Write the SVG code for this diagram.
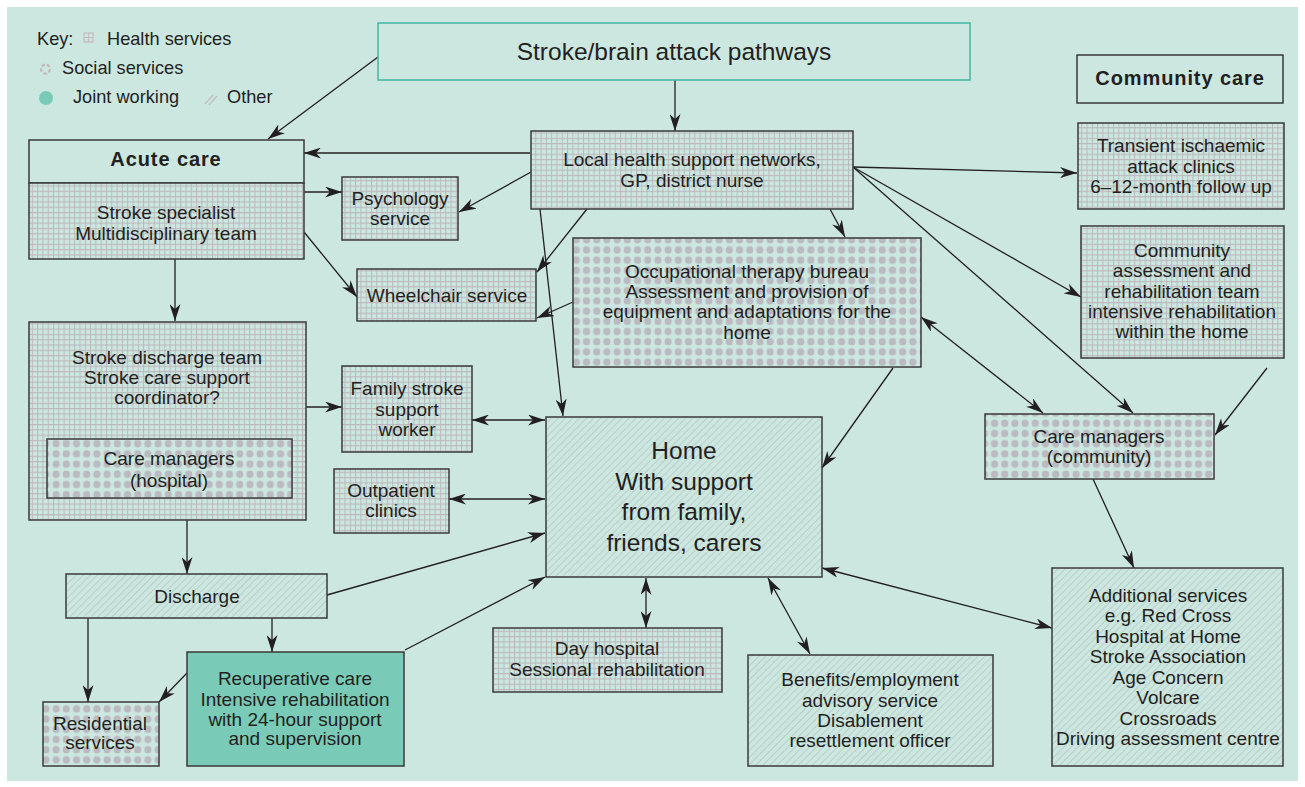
<svg xmlns="http://www.w3.org/2000/svg" width="1305" height="787" viewBox="0 0 1305 787">
<defs>
<style>
.t{font-family:"Liberation Sans",Arial,sans-serif;font-size:19px;fill:#231f20;text-anchor:middle}
.k{font-family:"Liberation Sans",Arial,sans-serif;font-size:18.2px;fill:#231f20}
.b{font-weight:bold;font-size:20px;letter-spacing:0.9px}
.big{font-size:24.5px}
.box{stroke:#3a3a3a;stroke-width:1.5}
.c{fill:none;stroke:#231f20;stroke-width:1.3}
</style>
<pattern id="grid" width="5.3" height="5.3" patternUnits="userSpaceOnUse">
<rect width="5.3" height="5.3" fill="#cbe7e0"/>
<path d="M0 0.5H5.3M0.5 0V5.3" stroke="#bcb8bd" stroke-width="1"/>
</pattern>
<pattern id="dots" width="10.2" height="10.2" patternUnits="userSpaceOnUse">
<rect width="10.2" height="10.2" fill="#cbe7e0"/>
<circle cx="5.1" cy="5.1" r="3.6" fill="#bbbac0"/>
</pattern>
<pattern id="hatch" width="5" height="5" patternUnits="userSpaceOnUse" patternTransform="rotate(45)">
<rect width="5" height="5" fill="#cbe7e0"/>
<line x1="0" y1="0" x2="0" y2="5" stroke="#adafaf" stroke-width="0.9"/>
</pattern>
<marker id="ah" viewBox="0 0 17 11" refX="17" refY="5.5" markerWidth="17" markerHeight="11" orient="auto-start-reverse" markerUnits="userSpaceOnUse">
<path d="M0,0 L17,5.5 L0,11 L5,5.5 z" fill="#231f20"/>
</marker>
</defs>
<rect x="0" y="0" width="1305" height="787" fill="#ffffff"/>
<rect x="7" y="7" width="1291" height="774" fill="#cbe7e0"/>

<g id="key">
<text class="k" x="37" y="45">Key:</text>
<g stroke="#c9b9bd" stroke-width="1.2" fill="none"><rect x="84" y="33" width="9" height="9"/><path d="M88.5 33V42M84 37.5H93"/></g>
<text class="k" x="107" y="45">Health services</text>
<circle cx="45.5" cy="69" r="4.5" fill="none" stroke="#c3b9bd" stroke-width="2.2" stroke-dasharray="3.5 2"/>
<text class="k" x="62" y="74">Social services</text>
<circle cx="46" cy="98" r="7" fill="#79cbb7"/>
<text class="k" x="73" y="103">Joint working</text>
<path d="M205 104L213 95M209 105L217 96" stroke="#c2bcbf" stroke-width="1.2"/>
<text class="k" x="227" y="103">Other</text>
</g>

<g id="connectors">
<path class="c" d="M378 57L268 139" marker-end="url(#ah)"/>
<path class="c" d="M675 80V131" marker-end="url(#ah)"/>
<path class="c" d="M530 153H304" marker-end="url(#ah)"/>
<path class="c" d="M304 192H342" marker-end="url(#ah)"/>
<path class="c" d="M304 232L357 297" marker-end="url(#ah)"/>
<path class="c" d="M531 172L459 212" marker-end="url(#ah)"/>
<path class="c" d="M587 209L537 272" marker-end="url(#ah)"/>
<path class="c" d="M540 209L563 416" marker-end="url(#ah)"/>
<path class="c" d="M573 302L537 318" marker-end="url(#ah)"/>
<path class="c" d="M830 209L845 237" marker-end="url(#ah)"/>
<path class="c" d="M853 167L1077 173" marker-end="url(#ah)"/>
<path class="c" d="M853 167L1081 297" marker-end="url(#ah)"/>
<path class="c" d="M853 167L1133 413" marker-end="url(#ah)"/>
<path class="c" d="M921 317L1043 413" marker-start="url(#ah)" marker-end="url(#ah)"/>
<path class="c" d="M893 368L822 468" marker-end="url(#ah)"/>
<path class="c" d="M1267 368L1215 435" marker-end="url(#ah)"/>
<path class="c" d="M1093 479L1134 568" marker-end="url(#ah)"/>
<path class="c" d="M822 568L1052 628" marker-start="url(#ah)" marker-end="url(#ah)"/>
<path class="c" d="M175 259V321" marker-end="url(#ah)"/>
<path class="c" d="M306 407H342" marker-end="url(#ah)"/>
<path class="c" d="M472 420H545" marker-start="url(#ah)" marker-end="url(#ah)"/>
<path class="c" d="M449 499H545" marker-start="url(#ah)" marker-end="url(#ah)"/>
<path class="c" d="M327 595L545 533" marker-end="url(#ah)"/>
<path class="c" d="M187 520V574" marker-end="url(#ah)"/>
<path class="c" d="M88 618V702" marker-end="url(#ah)"/>
<path class="c" d="M272 618V652" marker-end="url(#ah)"/>
<path class="c" d="M187 673L159 702" marker-end="url(#ah)"/>
<path class="c" d="M405 650L545 577" marker-end="url(#ah)"/>
<path class="c" d="M646 578V628" marker-start="url(#ah)" marker-end="url(#ah)"/>
<path class="c" d="M768 578L810 654" marker-start="url(#ah)" marker-end="url(#ah)"/>
</g>

<g id="title">
<rect x="378" y="23" width="592" height="57" fill="none" stroke="#3fb8a0" stroke-width="1.5"/>
<text class="t big" x="674" y="60">Stroke/brain attack pathways</text>
</g>

<g id="community-care">
<rect class="box" x="1077" y="55" width="206" height="48" fill="#cbe7e0"/>
<text class="t b" x="1180" y="85">Community care</text>
</g>

<g id="acute-care">
<rect class="box" x="29" y="140" width="275" height="43" fill="#cbe7e0"/>
<rect class="box" x="29" y="183" width="275" height="76" fill="url(#grid)"/>
<text class="t b" x="166" y="166">Acute care</text>
<text class="t" x="166" y="219">Stroke specialist</text>
<text class="t" x="166" y="240">Multidisciplinary team</text>
</g>

<g id="psychology">
<rect class="box" x="342" y="177" width="116" height="63" fill="url(#grid)"/>
<text class="t" x="400" y="205">Psychology</text>
<text class="t" x="400" y="225">service</text>
</g>

<g id="wheelchair">
<rect class="box" x="357" y="269" width="179" height="52" fill="url(#grid)"/>
<text class="t" x="447" y="302">Wheelchair service</text>
</g>

<g id="local-health">
<rect class="box" x="531" y="131" width="322" height="78" fill="url(#grid)"/>
<text class="t" x="692" y="166">Local health support networks,</text>
<text class="t" x="692" y="187">GP, district nurse</text>
</g>

<g id="tia-clinics">
<rect class="box" x="1078" y="123" width="206" height="86" fill="url(#grid)"/>
<text class="t" x="1181" y="152">Transient ischaemic</text>
<text class="t" x="1181" y="173">attack clinics</text>
<text class="t" x="1181" y="193">6–12-month follow up</text>
</g>

<g id="community-assessment">
<rect class="box" x="1081" y="226" width="203" height="132" fill="url(#grid)"/>
<text class="t" x="1182" y="257">Community</text>
<text class="t" x="1182" y="277">assessment and</text>
<text class="t" x="1182" y="298">rehabilitation team</text>
<text class="t" x="1182" y="318">intensive rehabilitation</text>
<text class="t" x="1182" y="338">within the home</text>
</g>

<g id="ot-bureau">
<rect class="box" x="573" y="238" width="348" height="129" fill="url(#dots)"/>
<text class="t" x="747" y="278">Occupational therapy bureau</text>
<text class="t" x="747" y="298">Assessment and provision of</text>
<text class="t" x="747" y="318">equipment and adaptations for the</text>
<text class="t" x="747" y="339">home</text>
</g>

<g id="stroke-discharge-team">
<rect class="box" x="29" y="322" width="277" height="198" fill="url(#grid)"/>
<text class="t" x="167" y="364">Stroke discharge team</text>
<text class="t" x="167" y="384">Stroke care support</text>
<text class="t" x="167" y="404">coordinator?</text>
</g>

<g id="care-managers-hospital">
<rect class="box" x="47" y="439" width="245" height="59" fill="url(#dots)"/>
<text class="t" x="169" y="465">Care managers</text>
<text class="t" x="169" y="487">(hospital)</text>
</g>

<g id="family-stroke-worker">
<rect class="box" x="342" y="366" width="130" height="86" fill="url(#grid)"/>
<text class="t" x="407" y="395">Family stroke</text>
<text class="t" x="407" y="416">support</text>
<text class="t" x="407" y="436">worker</text>
</g>

<g id="outpatient">
<rect class="box" x="334" y="469" width="115" height="64" fill="url(#grid)"/>
<text class="t" x="391" y="497">Outpatient</text>
<text class="t" x="391" y="517">clinics</text>
</g>

<g id="home">
<rect class="box" x="546" y="417" width="276" height="160" fill="url(#hatch)"/>
<text class="t big" x="684" y="459">Home</text>
<text class="t big" x="684" y="490">With support</text>
<text class="t big" x="684" y="520">from family,</text>
<text class="t big" x="684" y="551">friends, carers</text>
</g>

<g id="care-managers-community">
<rect class="box" x="985" y="414" width="229" height="65" fill="url(#dots)"/>
<text class="t" x="1099" y="443">Care managers</text>
<text class="t" x="1099" y="463">(community)</text>
</g>

<g id="discharge">
<rect class="box" x="66" y="574" width="261" height="44" fill="url(#hatch)"/>
<text class="t" x="197" y="603">Discharge</text>
</g>

<g id="residential">
<rect class="box" x="43" y="702" width="116" height="64" fill="url(#dots)"/>
<text class="t" x="100" y="730">Residential</text>
<text class="t" x="100" y="749">services</text>
</g>

<g id="recuperative">
<rect class="box" x="187" y="652" width="217" height="114" fill="#79cbb7"/>
<text class="t" x="295" y="685">Recuperative care</text>
<text class="t" x="295" y="706">Intensive rehabilitation</text>
<text class="t" x="295" y="726">with 24-hour support</text>
<text class="t" x="295" y="745">and supervision</text>
</g>

<g id="day-hospital">
<rect class="box" x="493" y="628" width="229" height="64" fill="url(#grid)"/>
<text class="t" x="607" y="655">Day hospital</text>
<text class="t" x="607" y="676">Sessional rehabilitation</text>
</g>

<g id="benefits">
<rect class="box" x="748" y="655" width="245" height="111" fill="url(#hatch)"/>
<text class="t" x="870" y="686">Benefits/employment</text>
<text class="t" x="870" y="707">advisory service</text>
<text class="t" x="870" y="727">Disablement</text>
<text class="t" x="870" y="747">resettlement officer</text>
</g>

<g id="additional-services">
<rect class="box" x="1052" y="568" width="231" height="198" fill="url(#hatch)"/>
<text class="t" x="1168" y="602">Additional services</text>
<text class="t" x="1168" y="622">e.g. Red Cross</text>
<text class="t" x="1168" y="643">Hospital at Home</text>
<text class="t" x="1168" y="663">Stroke Association</text>
<text class="t" x="1168" y="684">Age Concern</text>
<text class="t" x="1168" y="704">Volcare</text>
<text class="t" x="1168" y="725">Crossroads</text>
<text class="t" x="1168" y="745">Driving assessment centre</text>
</g>
</svg>
